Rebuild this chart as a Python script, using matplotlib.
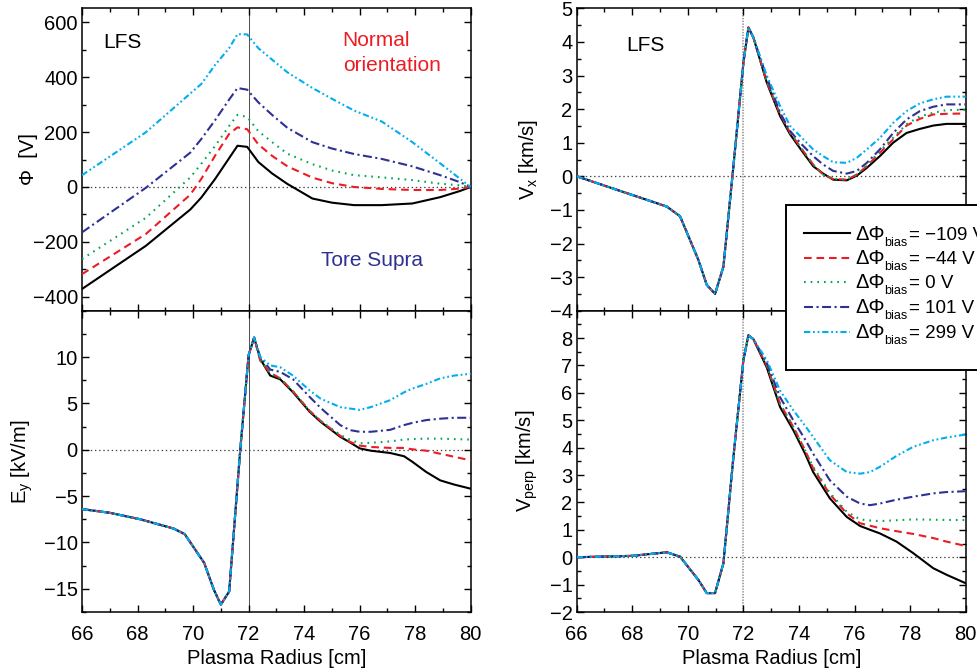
import matplotlib
matplotlib.use("Agg")
import matplotlib.pyplot as plt
from matplotlib.ticker import MultipleLocator
from matplotlib.lines import Line2D
from matplotlib.patches import Rectangle

plt.rcParams['font.family'] = ['Liberation Sans', 'DejaVu Sans']
plt.rcParams['mathtext.fontset'] = 'custom'
plt.rcParams['mathtext.rm'] = 'Liberation Sans'
plt.rcParams['mathtext.it'] = 'Liberation Sans:italic'
plt.rcParams['lines.scale_dashes'] = False

# ---- data ----
bias_labels = ['\u2212109 V', '\u221244 V', '0 V', '101 V', '299 V']

# potential Phi [V]
phi_r = [66, 68.3, 69.9, 70.3, 70.8, 71.3, 71.6, 71.95, 72.35, 72.85, 73.4,
         74.3, 75.0, 75.8, 76.8, 77.9, 78.9, 79.6, 80]
phi_m109 = [-371, -214, -82, -38, 30, 105, 150, 146, 91, 49, 11,
            -42, -57, -66, -66, -60, -37, -15, 0]
phi_m44 = [-317, -171, -28, 30, 115, 193, 217, 210, 155, 113, 75,
           34, 14, 0, -7, -11, -11, -6, 0]
phi_0 = [-262, -112, 35, 85, 150, 222, 262, 255, 203, 163, 121,
         83, 60, 43, 35, 25, 12, 6, 0]
phi_101 = [-165, -3, 125, 175, 244, 318, 360, 354, 308, 262, 215,
           163, 140, 120, 102, 75, 43, 18, 0]
phi_299 = [43, 199, 340, 375, 445, 505, 556, 555, 505, 463, 417,
           360, 321, 278, 238, 163, 86, 31, 0]

# radial electric field Ey [kV/m]
ey_r = [66, 67, 68.1, 69.3, 69.7, 70.4, 70.75, 71.0, 71.3, 71.7, 72.0, 72.2,
        72.42, 72.78, 73.14, 73.6, 74.2, 74.6, 75.3, 75.65, 76.0, 76.4, 77.1,
        77.6, 77.9, 78.4, 78.9, 79.4, 80]
ey_common = [-6.4, -6.8, -7.5, -8.5, -9.1, -12.2, -15.1, -16.7, -15.3, 0, 10.2, 12.1]
ey_m109 = ey_common + [9.8, 8.0, 7.6, 6.2, 4.1, 3.0, 1.4, 0.8, 0.15, -0.1, -0.35,
                       -0.7, -1.3, -2.4, -3.3, -3.75, -4.2]
ey_m44 = ey_common + [9.6, 8.3, 7.7, 6.3, 4.2, 3.1, 1.5, 0.86, 0.45, 0.3, 0.2,
                      0.2, 0.05, -0.1, -0.43, -0.75, -1.15]
ey_0 = ey_common + [9.7, 8.2, 7.7, 6.3, 4.2, 3.1, 1.6, 1.1, 0.7, 0.75, 0.9,
                    1.1, 1.15, 1.2, 1.2, 1.15, 1.1]
ey_101 = ey_common + [10.0, 8.65, 8.4, 7.6, 5.7, 4.5, 2.66, 2.12, 1.94, 1.94, 2.15,
                      2.66, 2.9, 3.2, 3.35, 3.45, 3.45]
ey_299 = ey_common + [10.0, 9.1, 8.9, 8.0, 6.4, 5.5, 4.6, 4.45, 4.3, 4.6, 5.35,
                      6.2, 6.6, 7.1, 7.7, 8.0, 8.2]

# poloidal velocity Vx [km/s]
vx_r = [66, 69.24, 69.72, 70.38, 70.68, 70.98, 71.28, 71.64, 72.0, 72.18, 72.36,
        72.84, 73.32, 73.68, 74.04, 74.51, 74.87, 75.23, 75.72, 76.08, 76.44,
        76.91, 77.39, 77.87, 78.35, 78.83, 79.31, 80]
vx_common = [0, -0.9, -1.19, -2.49, -3.23, -3.5, -2.69, 0.3, 3.38, 4.43, 4.13]
vx_m109 = vx_common + [2.79, 1.79, 1.25, 0.83, 0.3, 0.08, -0.1, -0.12, 0.02, 0.25,
                       0.6, 1.0, 1.29, 1.41, 1.51, 1.56, 1.56]
vx_m44 = vx_common + [2.82, 1.85, 1.3, 0.88, 0.35, 0.05, -0.08, -0.1, 0.05, 0.3,
                      0.7, 1.1, 1.51, 1.71, 1.84, 1.86, 1.87]
vx_0 = vx_common + [2.82, 1.85, 1.3, 0.88, 0.35, 0.05, -0.08, -0.1, 0.05, 0.32,
                    0.75, 1.15, 1.55, 1.78, 1.89, 1.97, 1.98]
vx_101 = vx_common + [2.95, 1.89, 1.35, 1.0, 0.6, 0.35, 0.16, 0.08, 0.16, 0.4,
                      0.8, 1.29, 1.69, 1.94, 2.07, 2.14, 2.14]
vx_299 = vx_common + [3.0, 2.09, 1.5, 1.2, 0.8, 0.6, 0.42, 0.4, 0.55, 0.8,
                      1.14, 1.59, 1.94, 2.17, 2.29, 2.37, 2.37]

# perpendicular velocity Vperp [km/s]
vp_r = [66, 68.0, 69.24, 69.72, 70.38, 70.68, 70.98, 71.28, 71.64, 72.0, 72.18,
        72.36, 72.84, 73.32, 73.8, 74.22, 74.51, 75.11, 75.72, 76.2, 76.56,
        76.91, 77.51, 78.11, 78.83, 79.31, 80]
vp_common = [0, 0.05, 0.18, 0.02, -0.83, -1.31, -1.31, -0.22, 3.66, 7.2, 8.1, 7.96]
vp_m109 = vp_common + [6.93, 5.48, 4.63, 3.78, 3.11, 2.15, 1.47, 1.14, 1.0, 0.87,
                       0.57, 0.15, -0.4, -0.64, -0.95]
vp_m44 = vp_common + [7.0, 5.6, 4.75, 3.9, 3.25, 2.3, 1.6, 1.24, 1.15, 1.06,
                      0.95, 0.85, 0.7, 0.57, 0.41]
vp_0 = vp_common + [7.0, 5.6, 4.75, 3.9, 3.3, 2.35, 1.66, 1.38, 1.34, 1.32,
                    1.35, 1.38, 1.37, 1.36, 1.36]
vp_101 = vp_common + [7.1, 5.84, 4.99, 4.3, 3.78, 2.81, 2.21, 1.96, 1.9, 1.96,
                      2.1, 2.21, 2.33, 2.38, 2.41]
vp_299 = vp_common + [7.2, 6.08, 5.36, 4.8, 4.39, 3.54, 3.11, 3.05, 3.11, 3.3,
                      3.7, 4.03, 4.27, 4.37, 4.48]

# ---- styles ----
colors = ['black', '#ed1c24', '#00a651', '#2e3192', '#00aeef']
styles = ['-', (0, (5.5, 3.5)), (0, (1.2, 3.6)), (0, (6.5, 2.5, 1.5, 2.5)),
          (0, (4.5, 2, 1.3, 2, 1.3, 2))]
LW = 1.5

W, H = 978, 670
fig = plt.figure(figsize=(W / 100, H / 100), dpi=100)

def frac(x0, y0, x1, y1):
    return [x0 / W, 1 - y1 / H, (x1 - x0) / W, (y1 - y0) / H]

ax_phi = fig.add_axes(frac(82, 8.3, 470.7, 310.7))
ax_ey = fig.add_axes(frac(82, 310.7, 470.7, 612))
ax_vx = fig.add_axes(frac(576.7, 8.3, 965.7, 310.7))
ax_vp = fig.add_axes(frac(576.7, 310.7, 965.7, 612))

panels = [
    (ax_phi, phi_r, [phi_m109, phi_m44, phi_0, phi_101, phi_299]),
    (ax_ey, ey_r, [ey_m109, ey_m44, ey_0, ey_101, ey_299]),
    (ax_vx, vx_r, [vx_m109, vx_m44, vx_0, vx_101, vx_299]),
    (ax_vp, vp_r, [vp_m109, vp_m44, vp_0, vp_101, vp_299]),
]

for ax, r, series in panels:
    left = ax in (ax_phi, ax_ey)
    ax.axhline(0, color='0.25', lw=0.9, ls=(0, (1, 2)), zorder=1)
    if left:
        ax.axvline(72, color='0.3', lw=0.7, zorder=1)
    else:
        ax.axvline(72, color='0.55', lw=1.1, ls=(0, (1, 1)), zorder=1)
    for i, y in enumerate(series):
        ax.plot(r, y, color=colors[i], ls=styles[i], lw=LW, zorder=3)
    ax.set_xlim(66, 80)
    ax.xaxis.set_major_locator(MultipleLocator(2))
    ax.xaxis.set_minor_locator(MultipleLocator(1))
    ax.tick_params(which='both', direction='in', top=True, right=True,
                   labelsize=14.5, width=1.0)
    ax.tick_params(axis='x', pad=9)
    ax.tick_params(axis='y', pad=3)
    ax.tick_params(which='major', length=5)
    ax.tick_params(which='minor', length=3)
    for s in ax.spines.values():
        s.set_linewidth(1.1)

ax_phi.set_ylim(-450, 650)
ax_phi.set_yticks([-400, -200, 0, 200, 400, 600])
ax_phi.set_yticklabels(['\u2212400', '\u2212200', '0', '200', '400', '600'])
ax_phi.yaxis.set_minor_locator(MultipleLocator(100))

ax_ey.set_ylim(-17.5, 15)
ax_ey.set_yticks([-15, -10, -5, 0, 5, 10])
ax_ey.set_yticklabels(['\u221215', '\u221210', '\u22125', '0', '5', '10'])
ax_ey.yaxis.set_minor_locator(MultipleLocator(2.5))

ax_vx.set_ylim(-4, 5)
ax_vx.set_yticks(range(-4, 6))
ax_vx.set_yticklabels(['\u22124', '\u22123', '\u22122', '\u22121', '0', '1', '2', '3', '4', '5'])
ax_vx.yaxis.set_minor_locator(MultipleLocator(0.5))

ax_vp.set_ylim(-2, 9)
ax_vp.set_yticks(range(-2, 9))
ax_vp.set_yticklabels(['\u22122', '\u22121', '0', '1', '2', '3', '4', '5', '6', '7', '8'])
ax_vp.yaxis.set_minor_locator(MultipleLocator(0.5))

for ax in (ax_phi, ax_vx):
    ax.tick_params(labelbottom=False)

LBL = 14.5
ax_ey.set_xlabel('Plasma Radius [cm]', fontsize=LBL, labelpad=4)
ax_vp.set_xlabel('Plasma Radius [cm]', fontsize=LBL, labelpad=4)
ax_phi.set_ylabel('\u03a6  [V]', fontsize=LBL)
ax_ey.set_ylabel(r'E$_{\rm y}$ [kV/m]', fontsize=LBL)
ax_vx.set_ylabel(r'V$_{\rm x}$ [km/s]', fontsize=LBL)
ax_vp.set_ylabel(r'V$_{\rm perp}$ [km/s]', fontsize=LBL)
ax_phi.yaxis.set_label_coords(-0.113, 0.5)
ax_ey.yaxis.set_label_coords(-0.12, 0.5)
ax_vx.yaxis.set_label_coords(-0.095, 0.5)
ax_vp.yaxis.set_label_coords(-0.095, 0.5)

ANN = 15
ax_phi.text(66.76, 526, 'LFS', fontsize=ANN, va='center', ha='left')
ax_phi.text(75.39, 487, 'Normal\norientation', fontsize=ANN, color='#ed1c24',
            va='center', ha='left', linespacing=1.35)
ax_phi.text(74.62, -268, 'Tore Supra', fontsize=ANN, color='#2e3192',
            va='center', ha='left')
ax_vx.text(67.77, 3.88, 'LFS', fontsize=ANN, va='center', ha='left')

# ---- legend box (drawn by hand so the subscript can be small) ----
fig.add_artist(Rectangle((786 / W, 1 - 370 / H), 210 / W, 165 / H,
                         transform=fig.transFigure, facecolor='white',
                         edgecolor='black', lw=1.4, zorder=5))
rows_px = [233, 258, 282, 307, 332]
renderer = fig.canvas.get_renderer()
for i, lab in enumerate(bias_labels):
    fy = 1 - rows_px[i] / H
    fig.add_artist(Line2D([804 / W, 850 / W], [fy, fy], transform=fig.transFigure,
                          color=colors[i], ls=styles[i], lw=LW, zorder=6))
    base = 1 - (rows_px[i] + 6.5) / H
    t1 = fig.text(855 / W, base, '\u0394\u03a6', fontsize=14.5, va='baseline',
                  ha='left', zorder=7)
    x1 = t1.get_window_extent(renderer).x1
    t2 = fig.text(x1 / W, base - 6 / H, 'bias', fontsize=9, va='baseline',
                  ha='left', zorder=7)
    x2 = t2.get_window_extent(renderer).x1
    fig.text((x2 + 1) / W, base, '= ' + lab, fontsize=13.5, va='baseline',
             ha='left', zorder=7)

fig.savefig('out.png', dpi=100)
